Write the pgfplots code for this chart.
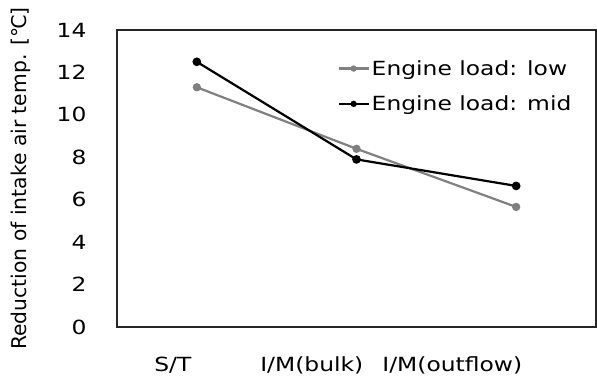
\documentclass[border=0pt]{standalone}
\usepackage{fontspec}
\setmainfont{DejaVu Sans}
\newfontfamily\wide{DejaVu Sans}[FakeStretch=1.2]
\usepackage{pgfplots}
\pgfplotsset{compat=1.18}
\definecolor{lowgray}{RGB}{128,128,128}
\begin{document}
\begin{tikzpicture}
\begin{axis}[
  scale only axis, width=479pt, height=297pt,
  xmin=-0.5, xmax=2.5, ymin=0, ymax=14,
  ytick={0,2,...,14},
  xtick={-0.15,0.72,1.60},
  xticklabels={S/T, I/M(bulk), I/M(outflow)},
  major tick length=0pt,
  /pgf/number format/assume math mode=true,
  tick label style={font=\wide\fontsize{19.5}{22}\selectfont},
  xticklabel style={yshift=-26pt},
  yticklabel style={xshift=-27pt},
  ylabel={Reduction of intake air temp. [℃]},
  ylabel style={font=\fontsize{20.3}{24}\selectfont, at={(axis description cs:-0.2,0.5)}, anchor=center},
  axis line style={line width=1.2pt, black!85},
  legend style={at={(0.46,0.905)}, anchor=north west, draw=none, fill=none,
    font=\wide\fontsize{19.5}{22}\selectfont, row sep=15pt, inner sep=0pt},
  legend cell align=left,
  legend image code/.code={\draw[#1] (0pt,0pt) -- (30pt,0pt); \fill[#1] (15pt,0pt) circle (2pt);},
]
\addplot[color=lowgray, line width=2.2pt, mark=*, mark size=3pt] coordinates {(0,11.3) (1,8.4) (2,5.66)};
\addlegendentry{Engine load: low}
\addplot[color=black, line width=2.2pt, mark=*, mark size=3.2pt] coordinates {(0,12.5) (1,7.9) (2,6.65)};
\addlegendentry{Engine load: mid}
\end{axis}
\path (current axis.south west) ++(-117pt,-47pt) rectangle ++(597pt,374pt);
\end{tikzpicture}
\end{document}
